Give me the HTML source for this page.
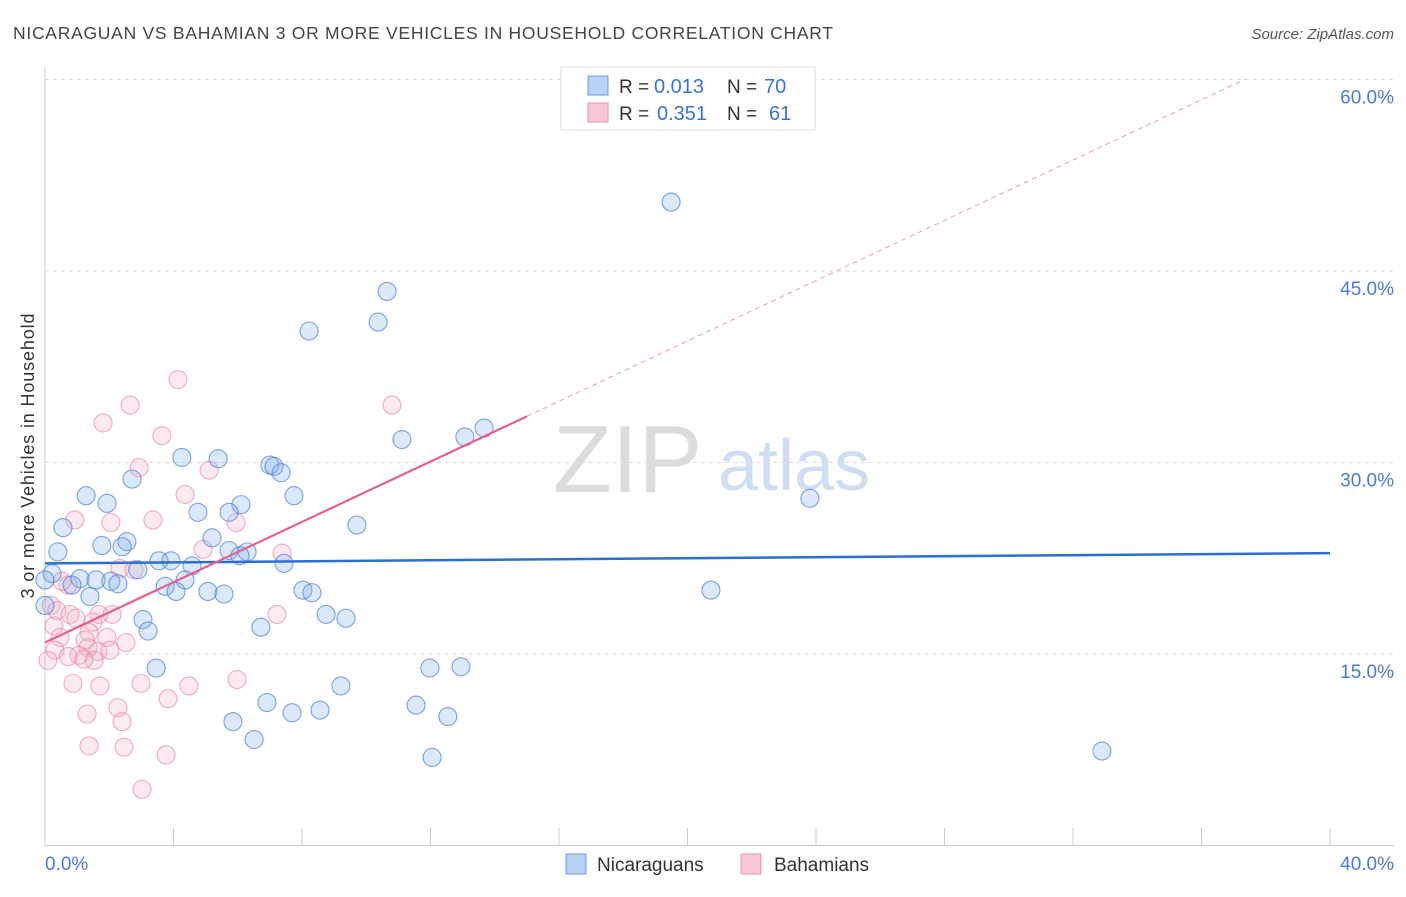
<!DOCTYPE html>
<html><head><meta charset="utf-8"><style>
body{margin:0;background:#fff;font-family:"Liberation Sans",sans-serif;}
svg text{font-family:"Liberation Sans",sans-serif;}
</style></head><body>
<svg id="chart" width="1406" height="892" xmlns="http://www.w3.org/2000/svg">
<text x="13" y="39" font-size="17.5" fill="#444" textLength="820" lengthAdjust="spacing">NICARAGUAN VS BAHAMIAN 3 OR MORE VEHICLES IN HOUSEHOLD CORRELATION CHART</text>
<text x="1394" y="39" font-size="15" fill="#555" text-anchor="end" font-style="italic">Source: ZipAtlas.com</text>
<text transform="translate(34,456) rotate(-90)" font-size="18" fill="#333" text-anchor="middle" textLength="285" lengthAdjust="spacing">3 or more Vehicles in Household</text>
<g>
<text x="553" y="492" font-family="Liberation Serif,serif" font-size="96" fill="#dcdcdc">ZIP</text>
<text x="718" y="490" font-size="72" fill="#d0def3">atlas</text>
</g>
<g id="grid"></g><g id="axes"></g><g id="marks"></g>
<g>
<rect x="561" y="67" width="254" height="63" fill="#fff" stroke="#ddd"/>
<rect x="588" y="76" width="20" height="19" fill="#b9d2f5" stroke="#6a9be0"/>
<rect x="588" y="103" width="20" height="19" fill="#f9c6d6" stroke="#ea93ae"/>
<text x="619" y="93" font-size="19" fill="#333">R =</text>
<text x="654" y="93" font-size="20" fill="#3a74d0">0.013</text>
<text x="727" y="93" font-size="19" fill="#333">N =</text>
<text x="764" y="93" font-size="20" fill="#3a74d0">70</text>
<text x="619" y="120" font-size="19" fill="#333">R =</text>
<text x="657" y="120" font-size="20" fill="#3a74d0">0.351</text>
<text x="727" y="120" font-size="19" fill="#333">N =</text>
<text x="769" y="120" font-size="20" fill="#3a74d0">61</text>
</g>
<g>
<rect x="566" y="854" width="20" height="20" fill="#b9d2f5" stroke="#6a9be0"/>
<text x="597" y="871" font-size="19" fill="#333">Nicaraguans</text>
<rect x="741" y="854" width="20" height="20" fill="#f9c6d6" stroke="#ea93ae"/>
<text x="774" y="871" font-size="19" fill="#333">Bahamians</text>
</g>
</svg>
<script>
const yTicks=[15,30,45,60];
const xTickLabels=["0.0%","40.0%"];
const blueX=[19.49,10.65,10.37,8.22,13.67,13.07,11.11,4.26,5.39,7.0,7.13,7.35,2.71,1.28,7.75,23.81,1.93,6.10,4.76,5.73,0.56,9.71,5.2,2.55,1.77,2.40,0.40,5.73,6.29,6.07,3.55,3.92,7.44,4.58,2.89,0.22,4.36,1.09,1.59,2.05,2.27,0.84,3.74,4.08,5.07,5.57,8.03,8.31,20.73,1.40,0,8.75,9.37,3.05,3.21,6.72,3.46,11.98,12.95,9.21,6.91,11.55,7.69,8.56,12.54,5.85,6.51,32.9,12.05,0];
const blueY=[50.4,43.4,41.0,40.3,32.7,32.0,31.8,30.4,30.3,29.8,29.7,29.2,28.7,27.4,27.4,27.2,26.8,26.7,26.1,26.1,24.9,25.1,24.1,23.8,23.5,23.4,23.0,23.1,23.0,22.7,22.3,22.3,22.1,21.9,21.6,21.3,20.8,20.9,20.8,20.7,20.5,20.4,20.3,19.9,19.9,19.7,20.0,19.8,20.0,19.5,20.8,18.1,17.8,17.7,16.8,17.1,13.9,13.9,14.0,12.5,11.2,11.0,10.4,10.6,10.1,9.7,8.3,7.4,6.9,18.8];
const pinkX=[4.14,2.65,10.80,1.81,3.64,2.93,5.11,4.36,0.93,3.36,2.05,5.95,4.92,7.38,2.33,2.77,0.72,0.53,0.19,0.37,0.78,1.68,2.09,0.96,1.49,7.22,0.28,1.37,0.47,1.25,1.93,2.52,0.31,1.34,1.65,2.02,1.06,0.72,1.53,1.21,0.09,5.98,0.87,1.71,2.99,4.48,3.83,1.31,2.27,2.40,1.37,2.46,3.77,3.02];
const pinkY=[36.5,34.5,34.5,33.1,32.1,29.6,29.4,27.5,25.5,25.5,25.3,25.3,23.2,22.9,21.7,21.6,20.4,20.7,18.8,18.4,18.1,18.1,18.1,17.8,17.5,18.1,17.2,16.7,16.3,16.1,16.3,15.9,15.3,15.5,15.2,15.3,14.9,14.8,14.5,14.6,14.5,13.0,12.7,12.5,12.7,12.5,11.5,10.3,10.8,9.7,7.8,7.7,7.1,4.4];
const blueTrend=[22.1,22.9];
const pinkTrend=[15.9,1.181];
const NS="http://www.w3.org/2000/svg";
const X0=45,X1=1330,Y0=845.5,YPER=191.5/15;
function sx(v){return X0+(v/40)*(X1-X0);}
function sy(v){return Y0-v*YPER;}
function mk(tag,attrs,parent){const e=document.createElementNS(NS,tag);for(const k in attrs)e.setAttribute(k,attrs[k]);parent.appendChild(e);return e;}
const grid=document.getElementById('grid'),axes=document.getElementById('axes'),marks=document.getElementById('marks');
yTicks.forEach(t=>{
 const l=mk('line',{x1:45,x2:1394,y1:sy(t),y2:sy(t),stroke:'#ddd','stroke-dasharray':'4,4'},grid);
 
 
 const tx=mk('text',{x:1394,y:sy(t)+24,'font-size':19,fill:'#4a7bd0','text-anchor':'end'},axes);
 tx.textContent=t.toFixed(1)+'%';
 
 
});
const ya=mk('line',{x1:45,x2:45,y1:67,y2:846,stroke:'#ccc'},axes);


const xa=mk('line',{x1:45,x2:1394,y1:845.5,y2:845.5,stroke:'#ccc'},axes);


for(let i=1;i<=10;i++){
 const tk=mk('line',{x1:sx(i*4),x2:sx(i*4),y1:828,y2:845,stroke:'#ccc'},axes);
 
 
}
const xl0=mk('text',{x:45,y:870,'font-size':19,fill:'#4a7bd0'},axes);
xl0.textContent=xTickLabels[0];


const xl1=mk('text',{x:1394,y:870,'font-size':19,fill:'#4a7bd0','text-anchor':'end'},axes);
xl1.textContent=xTickLabels[1];


pinkX.forEach((v,i)=>{
 const c=mk('circle',{cx:sx(v),cy:sy(pinkY[i]),r:9,fill:'rgba(245,170,195,0.25)',stroke:'rgba(230,130,165,0.65)','stroke-width':1.1},marks);
 
 
});
blueX.forEach((v,i)=>{
 const c=mk('circle',{cx:sx(v),cy:sy(blueY[i]),r:9,fill:'rgba(130,175,238,0.28)',stroke:'rgba(70,125,215,0.7)','stroke-width':1.1},marks);
 
 
});
const bt=mk('line',{x1:sx(0),y1:sy(blueTrend[0]),x2:sx(40),y2:sy(blueTrend[1]),stroke:'#2b6fd6','stroke-width':2.5},marks);


const pxe=15.0,pxd=37.35;
const pt=mk('line',{x1:sx(0),y1:sy(pinkTrend[0]),x2:sx(pxe),y2:sy(pinkTrend[0]+pinkTrend[1]*pxe),stroke:'#e5608c','stroke-width':2.2},marks);


const pd=mk('line',{x1:sx(pxe),y1:sy(pinkTrend[0]+pinkTrend[1]*pxe),x2:sx(pxd),y2:sy(pinkTrend[0]+pinkTrend[1]*pxd),stroke:'#eaa0b8','stroke-width':1,'stroke-dasharray':'5,4'},marks);


</script>
</body></html>
